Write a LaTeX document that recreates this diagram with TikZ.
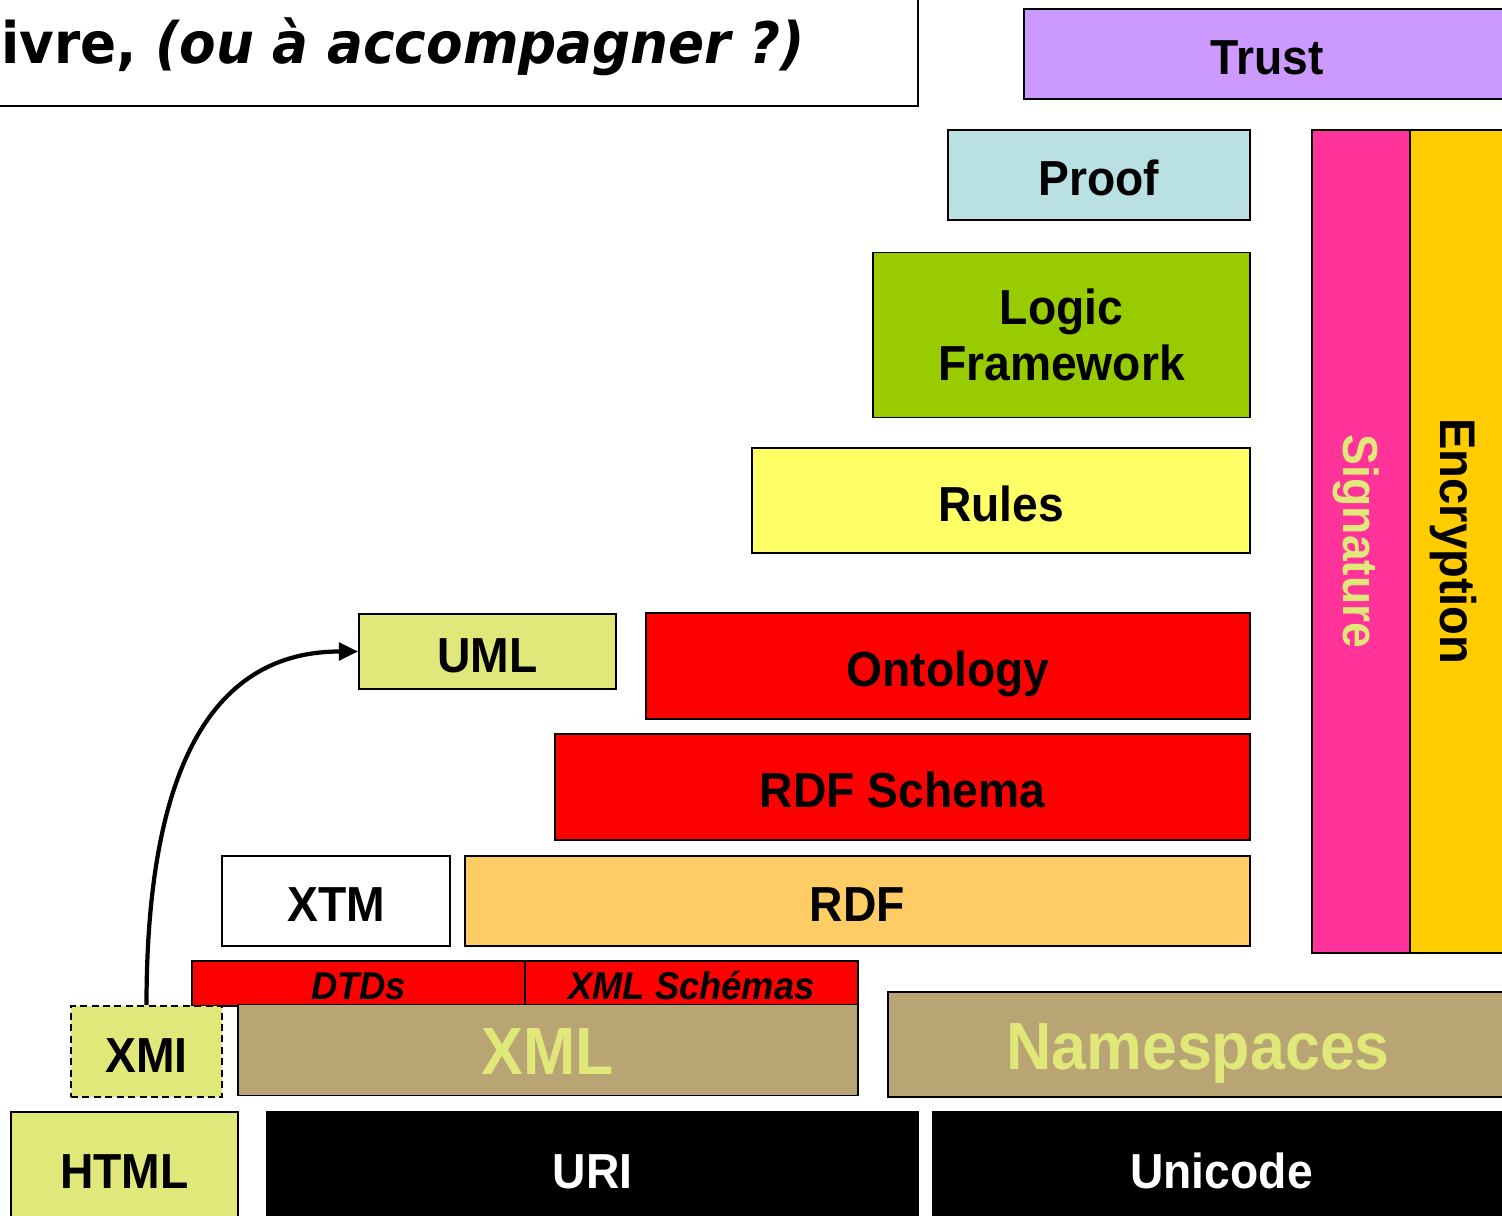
\documentclass[tikz,border=0pt]{standalone}
\usepackage{fontspec}
\setmainfont{Liberation Sans}[FakeStretch=0.94]
\newfontfamily\titlefont{DejaVu Sans}[FakeStretch=0.93]
\usetikzlibrary{arrows.meta}

\definecolor{trustc}{HTML}{CC99FF}
\definecolor{proofc}{HTML}{B9E0E3}
\definecolor{logicc}{HTML}{99CC00}
\definecolor{rulesc}{HTML}{FFFF66}
\definecolor{paleyel}{HTML}{E1E87A}
\definecolor{rdfc}{HTML}{FFCC66}
\definecolor{tanc}{HTML}{B9A573}
\definecolor{signc}{HTML}{FF3399}
\definecolor{encrc}{HTML}{FFCC00}

\begin{document}
\begin{tikzpicture}[x=0.02cm, y=-0.02cm,
		layerbase/.style = {draw, line width=1pt, inner sep=0pt, align=center,
			font=\bfseries\fontsize{28}{32}\selectfont},
		layer/.style = {layerbase, text height=23.6pt, text depth=0pt},
		biglabel/.style = {font=\bfseries\fontsize{38}{44}\selectfont, text height=28pt},
		smalllabel/.style = {font=\bfseries\itshape\fontsize{22}{26}\selectfont, text height=18.4pt},
		wh/.style 2 args = {minimum width=#1*\u, minimum height=#2*\u}]
		\def\u{0.02cm};
		
		\useasboundingbox (0,0) rectangle (1502,1216);
		\clip (0,0) rectangle (1502,1216);
		
		\begin{scope}
		\node[draw, line width=1pt, wh={940}{128}] (titlebox) at (448,42) {};
		\node[anchor=base west, inner xsep=0pt, font=\titlefont\bfseries\fontsize{32.6}{38}\selectfont] (title) at (1,64) {ivre, \textit{(ou à accompagner ?)}};
		\end{scope}
		
		\begin{scope}
		\node[layer, fill=trustc, wh={486}{90}] (trust) at (1267,54) {Trust};
		\node[layer, fill=proofc, wh={302}{90}] (proof) at (1099,175) {Proof};
		\node[layerbase, fill=logicc, wh={377}{165}] (logic) at (1061.5,335) {Logic\\Framework};
		\node[layer, fill=rulesc, wh={498}{105}] (rules) at (1001,500.5) {Rules};
		\node[layer, fill=paleyel, wh={257}{75}] (uml) at (487.5,651.5) {UML};
		\node[layer, fill=red, wh={604}{106}] (ontology) at (948,666) {Ontology};
		\node[layer, fill=red, wh={695}{106}] (rdfs) at (902.5,787) {RDF Schema};
		\node[layer, fill=white, wh={228}{90}] (xtm) at (336,901) {XTM};
		\node[layer, fill=rdfc, wh={785}{90}] (rdf) at (857.5,901) {RDF};
		\end{scope}
		
		\begin{scope}
		\node[layer, fill=signc, wh={98}{823}] (sign) at (1361,541.5) {};
		\node[font=\bfseries\fontsize{28}{32}\selectfont, text=paleyel, rotate=-90] (signtext) at (1356,541.5) {Signature};
		\node[layer, fill=encrc, wh={110}{823}] (encr) at (1465,541.5) {};
		\node[font=\bfseries\fontsize{28.5}{32}\selectfont, rotate=-90] (encrtext) at (1453,541.5) {Encryption};
		\end{scope}
		
		\begin{scope}
		\node[layer, smalllabel, fill=red, wh={333}{45}] (dtd) at (358.5,983.5) {DTDs};
		\node[layer, smalllabel, fill=red, wh={333}{45}] (xsd) at (691.5,983.5) {XML Schémas};
		\end{scope}
		
		\begin{scope}
		\node[layer, fill=paleyel, dash pattern=on 4pt off 2.5pt, wh={151}{91}] (xmi) at (146.5,1051.5) {XMI};
		\node[layer, biglabel, fill=tanc, text=paleyel, wh={620}{91}] (xml) at (548,1050) {XML};
		\node[layer, biglabel, fill=tanc, text=paleyel, wh={620}{105}] (ns) at (1198,1044.5) {Namespaces};
		\end{scope}
		
		\begin{scope}[every node/.append style={text height=20pt}]
		\node[layer, fill=paleyel, wh={227}{112}] (html) at (124.5,1168) {HTML};
		\node[layer, fill=black, text=white, wh={651}{112}] (uri) at (592.5,1168) {URI};
		\node[layer, fill=black, text=white, wh={577}{112}] (unicode) at (1221.5,1168) {Unicode};
		\end{scope}
		
		\draw[line width=2.4pt, -{Triangle[length=11pt, width=10pt]}] (xmi.north) .. controls +(0,-210) and +(-160,0) .. (uml.west);
	\end{tikzpicture}
\end{document}
